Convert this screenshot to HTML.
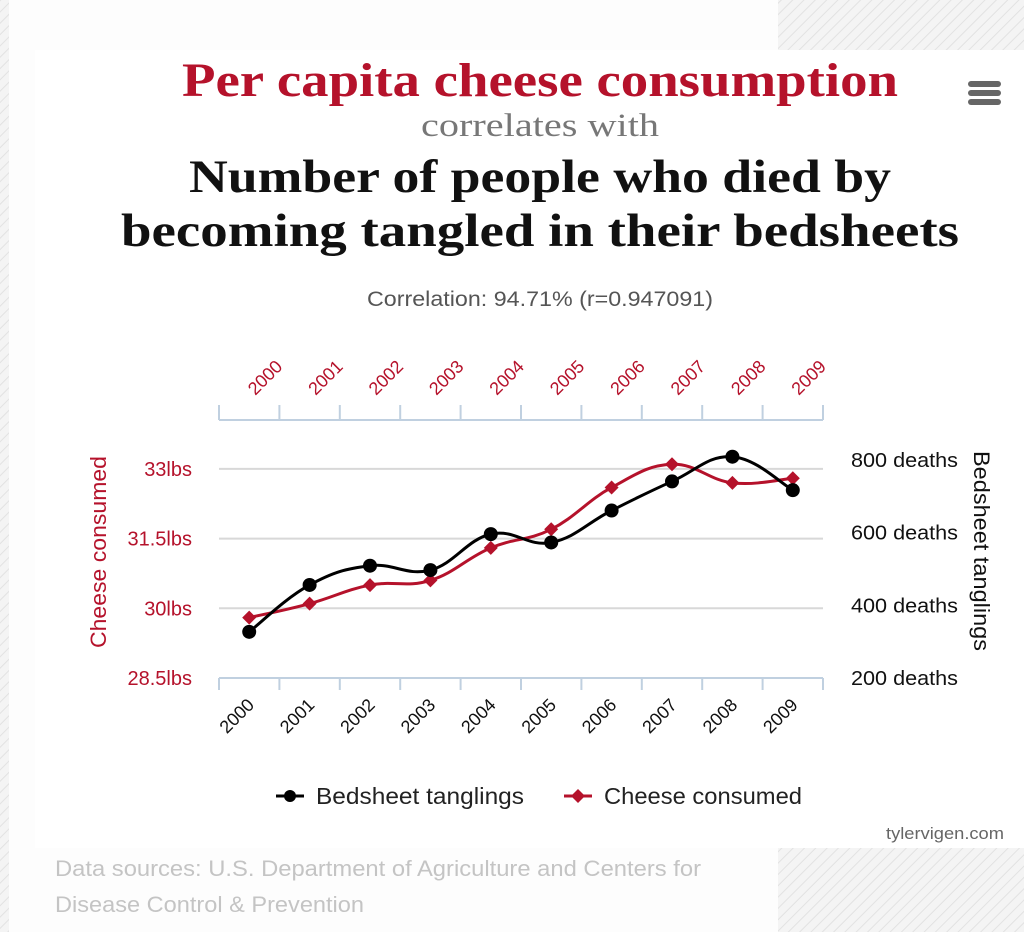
<!DOCTYPE html>
<html><head><meta charset="utf-8"><style>
html,body{margin:0;padding:0;width:1024px;height:932px;overflow:hidden;background:#fff}
svg{display:block}
</style></head><body>
<svg width="1024" height="932" viewBox="0 0 1024 932" xmlns="http://www.w3.org/2000/svg">
<defs>
<pattern id="hatch" width="8" height="8" patternUnits="userSpaceOnUse" patternTransform="rotate(45)">
<rect width="8" height="8" fill="#f4f4f4"/><line x1="0" y1="0" x2="0" y2="8" stroke="#e2e2e2" stroke-width="2"/>
</pattern>
</defs>
<rect width="1024" height="932" fill="url(#hatch)"/>
<rect x="9" y="0" width="769" height="932" fill="#fdfdfd"/>
<rect x="35" y="50" width="989" height="798" fill="#ffffff"/>

<text x="540" y="96" text-anchor="middle" font-family="Liberation Serif, serif" font-weight="bold" font-size="48" fill="#b5122b" textLength="716" lengthAdjust="spacingAndGlyphs">Per capita cheese consumption</text>
<text x="540" y="136" text-anchor="middle" font-family="Liberation Serif, serif" font-size="33" fill="#777" textLength="238" lengthAdjust="spacingAndGlyphs">correlates with</text>
<text x="540" y="192" text-anchor="middle" font-family="Liberation Serif, serif" font-weight="bold" font-size="47" fill="#111" textLength="702" lengthAdjust="spacingAndGlyphs">Number of people who died by</text>
<text x="540" y="246" text-anchor="middle" font-family="Liberation Serif, serif" font-weight="bold" font-size="47" fill="#111" textLength="838" lengthAdjust="spacingAndGlyphs">becoming tangled in their bedsheets</text>
<text x="540" y="306" text-anchor="middle" font-family="Liberation Sans, sans-serif" font-size="21" fill="#555" textLength="346" lengthAdjust="spacingAndGlyphs">Correlation: 94.71% (r=0.947091)</text>

<g>
<rect x="968" y="81" width="33" height="6" rx="3" fill="#666"/>
<rect x="968" y="90" width="33" height="6" rx="3" fill="#666"/>
<rect x="968" y="99" width="33" height="6" rx="3" fill="#666"/>
</g>

<g id="grid"></g>
<g id="axes"></g>
<g id="series"></g>

<text transform="translate(106,552) rotate(-90)" text-anchor="middle" font-family="Liberation Sans, sans-serif" font-size="22" fill="#b5122b" textLength="192" lengthAdjust="spacingAndGlyphs">Cheese consumed</text>
<text transform="translate(974,551) rotate(90)" text-anchor="middle" font-family="Liberation Sans, sans-serif" font-size="22" fill="#111" textLength="200" lengthAdjust="spacingAndGlyphs">Bedsheet tanglings</text>

<g>
<line x1="276" y1="796" x2="304" y2="796" stroke="#000" stroke-width="3"/>
<circle cx="290" cy="796" r="6" fill="#000"/>
<text x="316" y="804" font-family="Liberation Sans, sans-serif" font-size="23" fill="#222" textLength="208" lengthAdjust="spacingAndGlyphs">Bedsheet tanglings</text>
</g>
<g>
<line x1="564" y1="796" x2="592" y2="796" stroke="#b5122b" stroke-width="3"/>
<path d="M578 789 L585 796 L578 803 L571 796 Z" fill="#b5122b"/>
<text x="604" y="804" font-family="Liberation Sans, sans-serif" font-size="23" fill="#222" textLength="198" lengthAdjust="spacingAndGlyphs">Cheese consumed</text>
</g>
<text x="1004" y="839" text-anchor="end" font-family="Liberation Sans, sans-serif" font-size="17" fill="#666" textLength="118" lengthAdjust="spacingAndGlyphs">tylervigen.com</text>
<text x="55" y="876" font-family="Liberation Sans, sans-serif" font-size="22" fill="#c4c4c4" textLength="646" lengthAdjust="spacingAndGlyphs">Data sources: U.S. Department of Agriculture and Centers for</text>
<text x="55" y="912" font-family="Liberation Sans, sans-serif" font-size="22" fill="#c4c4c4" textLength="309" lengthAdjust="spacingAndGlyphs">Disease Control &amp; Prevention</text>
</svg>
<script>
const years = ['2000','2001','2002','2003','2004','2005','2006','2007','2008','2009'];
const cheese = [29.8,30.1,30.5,30.6,31.3,31.7,32.6,33.1,32.7,32.8];
const bedsheet = [327,456,509,497,596,573,661,741,809,717];
const leftTicks = [28.5,30,31.5,33];
const leftTickLabels = ['28.5lbs','30lbs','31.5lbs','33lbs'];
const rightTicks = [200,400,600,800];
const rightTickLabels = ['200 deaths','400 deaths','600 deaths','800 deaths'];

const NS='http://www.w3.org/2000/svg';
const X0=219, X1=823;
const band=(X1-X0)/years.length;
function xPos(i){return X0+band*(i+0.5);}
function yLeft(v){return 678-(v-28.5)*(69.7/1.5);}
function yRight(v){return 678-(v-200)*(218/600);}
function mk(tag,attrs,parent){const e=document.createElementNS(NS,tag);for(const k in attrs)e.setAttribute(k,attrs[k]);parent.appendChild(e);return e;}
const grid=document.getElementById('grid'), axes=document.getElementById('axes'), series=document.getElementById('series');

leftTicks.forEach((t,i)=>{
  const y=yLeft(t);
  if(i>0){const g=mk('line',{x1:X0,x2:X1,y1:y,y2:y,stroke:'#d8d8d8','stroke-width':2},grid);
  
  }
  const tx=mk('text',{x:192,y:y+7,'text-anchor':'end','font-family':'Liberation Sans, sans-serif','font-size':20,fill:'#b5122b'},axes);
  tx.textContent=leftTickLabels[i];
  
  
});
rightTicks.forEach((t,i)=>{
  const y=yRight(t);
  const tx=mk('text',{x:851,y:y+7,'font-family':'Liberation Sans, sans-serif','font-size':20,fill:'#111',textLength:107,lengthAdjust:'spacingAndGlyphs'},axes);
  tx.textContent=rightTickLabels[i];
  
  
});
[[420,405],[678,690]].forEach(([y,y2],k)=>{
  const l=mk('line',{x1:X0,x2:X1,y1:y,y2:y,stroke:'#c0d0e0','stroke-width':2},axes);
  
  
  for(let i=0;i<=years.length;i++){
    const x=X0+band*i;
    const t=mk('line',{x1:x,x2:x,y1:y,y2:y2,stroke:'#c0d0e0','stroke-width':2},axes);
    
    
  }
});
years.forEach((yr,i)=>{
  const x=xPos(i);
  const a=mk('text',{transform:`translate(${x+6},${396}) rotate(-45)`,'font-family':'Liberation Sans, sans-serif','font-size':18,fill:'#b5122b','text-anchor':'start'},axes);
  a.textContent=yr;
  
  
  const b=mk('text',{transform:`translate(${x+6},${706}) rotate(-45)`,'font-family':'Liberation Sans, sans-serif','font-size':18,fill:'#111','text-anchor':'end'},axes);
  b.textContent=yr;
  
  
});
function smooth(pts){
  let d=`M${pts[0][0]},${pts[0][1]}`;
  for(let i=0;i<pts.length-1;i++){
    const p0=pts[i-1]||pts[i],p1=pts[i],p2=pts[i+1],p3=pts[i+2]||p2;
    const t=0.2;
    d+=` C${p1[0]+(p2[0]-p0[0])*t},${p1[1]+(p2[1]-p0[1])*t} ${p2[0]-(p3[0]-p1[0])*t},${p2[1]-(p3[1]-p1[1])*t} ${p2[0]},${p2[1]}`;
  }
  return d;
}
const cPts=cheese.map((v,i)=>[xPos(i),yLeft(v)]);
const bPts=bedsheet.map((v,i)=>[xPos(i),yRight(v)]);
const cl=mk('path',{d:smooth(cPts),fill:'none',stroke:'#b5122b','stroke-width':3},series);


const bl=mk('path',{d:smooth(bPts),fill:'none',stroke:'#000','stroke-width':3},series);


cPts.forEach(([x,y])=>{
  const m=mk('path',{d:`M${x} ${y-7} L${x+7} ${y} L${x} ${y+7} L${x-7} ${y} Z`,fill:'#b5122b'},series);
  
  
});
bPts.forEach(([x,y])=>{
  const m=mk('circle',{cx:x,cy:y,r:7,fill:'#000'},series);
  
  
});
</script>
</body></html>
